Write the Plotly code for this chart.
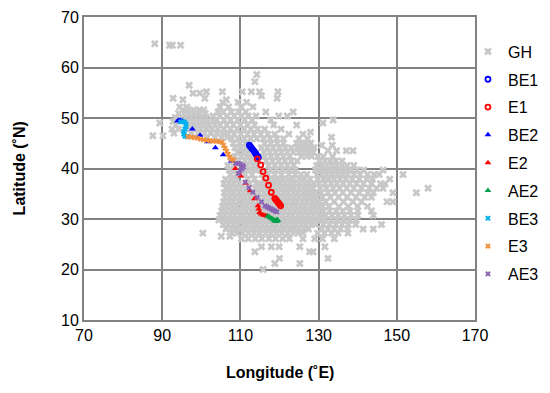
import plotly.graph_objects as go

# ---------------- GH background cloud (rows of latitude -> longitudes) ----------------
gh_rows = [
    (64.7, [88.1]), (64.4, [91.9, 92.6, 94.7]),
    (58.6, [114.2]), (57.2, [113.7]), (56.5, [96.9]),
    (55.2, [101.3, 105.4, 110.5, 112.8, 114.9, 119.6]),
    (54.9, [97.9, 99.6]), (54.4, [115.4]),
    (53.9, [92.8, 100.9, 119.4]), (53.6, [95.3, 106.4]),
    (53.1, [105.5, 109.4, 111.6]),
    (52.2, [94.5, 96.3, 104.8, 107.0, 110.2, 113.2]),
    (51.6, [95.2, 96.6, 98.0, 99.5, 100.6]),
    (51.2, [104.3, 105.6, 107.7, 109.5, 111.4, 116.5, 123.5]),
    (50.9, [94.2, 95.6, 96.9, 98.2, 99.6, 101.0]),
    (50.4, [103.0, 104.7, 106.5, 108.4, 110.2, 112.0, 114.0, 119.8, 122.0]),
    (50.1, [93.4, 94.8, 96.1, 97.4, 98.7, 100.0, 101.3]),
    (49.6, [104.0, 105.8, 107.5, 109.3, 111.1, 113.0, 117.8, 133.7]),
    (49.3, [92.8, 96.4, 97.7, 99.0, 100.3, 101.6, 103.0]),
    (49.0, [89.4, 131.1]),
    (48.6, [93.5, 96.8, 98.1, 99.4, 100.7, 102.0, 103.5, 104.8, 106.5, 108.2, 110.0, 111.8, 113.6, 118.5, 124.4]),
    (47.8, [92.5, 94.2, 96.9, 98.5, 99.9, 101.3, 102.7, 104.2, 105.8, 107.5, 109.2, 111.0, 112.7, 114.4, 116.2, 120.4]),
    (47.2, [127.9]),
    (47.0, [93.0, 97.5, 99.2, 100.8, 102.4, 104.0, 105.5]),
    (46.8, [106.8, 108.4, 110.1, 111.8, 113.5, 115.2, 117.0, 118.8, 122.4, 126.0]),
    (46.5, [87.6, 90.2]),
    (46.2, [101.5, 103.5, 105.2, 106.6, 133.3]),
    (45.9, [107.8, 109.4, 111.0, 112.6, 114.2, 115.9, 117.6, 119.3, 121.0, 125.0, 127.2]),
    (45.0, [108.2, 109.8, 111.3, 116.2, 117.8, 119.4, 121.0, 124.4, 125.6, 126.8, 128.0]),
    (44.6, [130.8, 133.5]),
    (44.1, [108.6, 110.0, 111.4, 115.4, 116.9, 118.4, 120.0, 121.5, 123.0, 124.5, 125.5, 126.6, 127.7, 128.8]),
    (43.5, [132.4, 134.6, 137.1, 138.8]),
    (43.2, [109.2, 110.6, 111.8, 116.0, 117.5, 119.0, 120.5, 122.0, 123.5, 125.0, 126.2, 127.4, 128.6]),
    (42.4, [108.6, 110.2, 111.6, 112.8, 116.2, 117.8, 119.4, 121.0, 122.6, 125.6, 127.0, 128.2, 129.8, 131.2, 133.6]),
    (41.5, [107.6, 109.5, 111.2, 112.6, 113.9, 116.6, 118.2, 119.8, 121.4, 123.0, 124.5, 130.2, 131.6, 133.0, 134.4, 136.0]),
    (40.6, [106.8, 108.2, 111.8, 113.2, 114.4, 117.2, 118.8, 120.4, 122.0, 123.6, 129.5, 130.8, 132.1, 133.4, 134.7, 136.0, 137.3, 139.0]),
    (39.7, [107.2, 108.6, 111.2, 112.6, 113.9, 115.1, 117.6, 119.2, 120.8, 122.4, 124.0, 129.2, 130.5, 131.8, 133.1, 134.4, 135.7, 137.0, 138.3, 139.8, 141.5, 146.5]),
    (38.8, [107.5, 109.0, 111.2, 113.0, 115.5, 117.0, 118.8, 120.5, 122.4, 124.0, 125.5, 127.0, 129.6, 130.9, 132.2, 133.5, 134.8, 136.1, 137.4, 139.0, 140.6, 142.5, 144.2, 145.5, 151.6]),
    (37.9, [106.2, 107.6, 108.9, 111.8, 113.6, 116.0, 117.4, 118.6, 119.8, 121.0, 122.3, 123.5, 125.0, 126.3, 127.8, 129.8, 131.3, 132.6, 134.0, 135.5, 137.0, 138.6, 140.4, 142.3, 143.8, 148.2]),
    (37.0, [105.8, 107.1, 108.3, 109.6, 112.4, 114.1, 115.2, 116.4, 117.7, 118.9, 120.1, 121.3, 122.6, 123.8, 125.1, 126.4, 127.6, 128.8, 130.1, 131.6, 133.2, 134.7, 136.3, 138.0, 139.7, 141.5, 143.5, 145.8, 147.0]),
    (36.1, [106.3, 107.5, 108.8, 110.1, 111.4, 113.8, 114.9, 116.2, 117.4, 118.8, 120.0, 121.2, 122.5, 123.7, 125.0, 126.2, 127.5, 128.6, 130.4, 132.0, 133.7, 135.4, 137.2, 139.0, 141.0, 143.0, 144.8, 146.5, 158.0]),
    (35.2, [105.9, 107.2, 108.4, 109.7, 110.9, 112.2, 113.5, 114.7, 116.0, 117.2, 118.5, 119.7, 121.0, 122.2, 123.5, 124.7, 126.0, 127.2, 128.4, 129.3, 130.6, 132.4, 134.2, 136.2, 138.3, 140.4, 142.6, 144.0, 149.0, 155.0]),
    (34.3, [106.1, 107.4, 108.6, 109.9, 111.1, 112.4, 113.6, 114.9, 116.1, 117.4, 118.7, 119.9, 121.2, 122.4, 123.7, 124.9, 126.2, 127.4, 128.6, 129.6, 131.0, 133.0, 135.1, 137.3, 139.6, 141.8, 143.5]),
    (33.4, [105.7, 107.0, 108.2, 109.5, 110.7, 112.0, 113.2, 114.5, 115.7, 117.0, 118.2, 119.5, 120.8, 122.0, 123.3, 124.5, 125.8, 127.0, 128.3, 129.5, 130.4, 131.8, 134.0, 136.4, 138.8, 141.0, 147.5, 149.0]),
    (32.5, [105.4, 106.6, 107.9, 109.1, 110.4, 111.6, 112.9, 114.1, 115.4, 116.6, 117.9, 119.1, 120.4, 121.6, 122.9, 124.1, 125.4, 126.6, 127.9, 129.1, 130.2, 131.0, 132.6, 135.2, 137.6, 140.0, 142.5]),
    (31.6, [105.2, 106.4, 107.7, 108.9, 110.2, 111.4, 112.7, 113.9, 115.2, 116.4, 117.7, 118.9, 120.2, 121.4, 122.7, 123.9, 125.2, 126.4, 127.7, 128.9, 130.1, 131.2, 132.8, 134.5, 136.2, 138.0, 140.0, 143.5]),
    (30.7, [104.8, 106.0, 107.3, 108.5, 109.8, 111.0, 112.3, 113.5, 114.8, 116.0, 117.3, 118.5, 119.8, 121.0, 122.3, 123.5, 124.8, 126.0, 127.3, 128.5, 129.8, 130.8, 131.8, 133.4, 135.0, 136.6, 138.3, 140.0, 144.0]),
    (29.8, [104.5, 105.7, 107.0, 108.2, 109.5, 110.7, 112.0, 113.2, 114.5, 115.7, 117.0, 118.2, 119.5, 120.7, 122.0, 123.2, 124.5, 125.7, 127.0, 128.2, 129.5, 130.6, 131.6, 133.2, 134.8, 136.4, 138.0, 139.6]),
    (28.9, [105.6, 106.8, 108.1, 109.3, 110.6, 111.8, 113.1, 114.3, 115.6, 116.8, 118.1, 119.3, 120.6, 121.8, 123.1, 124.3, 125.6, 126.8, 128.1, 129.3, 131.2, 132.8, 134.4, 136.0, 137.6, 139.5, 146.1]),
    (28.0, [106.3, 107.6, 108.8, 110.1, 111.3, 112.6, 113.8, 115.1, 116.3, 117.6, 118.8, 120.1, 121.3, 122.6, 123.8, 125.1, 126.3, 127.4, 130.8, 132.4, 134.0, 135.6, 137.4, 141.4, 144.0]),
    (27.2, [100.4, 107.8, 109.2, 110.6, 112.1, 113.5, 114.9, 116.4, 117.8, 119.2, 120.6, 122.1, 123.5, 124.8, 126.0, 129.8, 131.5, 133.3, 135.0, 137.5]),
    (26.6, [105.1, 107.3]),
    (26.1, [110.3, 112.0, 113.8, 115.5, 117.3, 119.0, 120.8, 122.5, 126.0, 129.0, 131.0, 134.0]),
    (24.5, [115.4, 117.9, 119.9, 125.2, 131.6]),
    (23.5, [113.7, 127.7, 128.6]),
    (22.2, [120.0, 132.4]),
    (21.2, [118.8, 125.2]),
    (20.0, [115.8]),
]
gh_lon = [lon for lat, lons in gh_rows for lon in lons]
gh_lat = [lat for lat, lons in gh_rows for lon in lons]

# ---------------- trajectory series ----------------
be1_lon = [112.3, 112.6, 112.9, 113.2, 113.5, 113.8, 114.0, 114.3, 114.6]
be1_lat = [44.6, 44.3, 44.0, 43.7, 43.4, 43.1, 42.8, 42.5, 42.2]

e1_lon = [114.3, 115.2, 115.8, 116.5, 117.2, 117.9, 118.8, 119.1, 119.4, 119.7, 120.0, 120.3]
e1_lat = [41.9, 40.7, 39.4, 38.1, 36.7, 35.3, 34.1, 33.8, 33.5, 33.2, 32.9, 32.6]

be2_lon = [93.9, 94.3, 94.7, 95.1, 95.5, 97.7, 99.7, 101.6, 103.6, 105.6, 107.7]
be2_lat = [49.4, 49.5, 49.5, 49.4, 49.2, 47.8, 46.6, 45.3, 44.1, 42.7, 41.5]

e2_lon = [108.7, 110.1, 111.3, 112.5, 113.6, 114.5, 114.7, 114.9, 115.3, 115.8, 116.3, 116.8]
e2_lat = [40.0, 38.5, 37.1, 35.6, 34.0, 32.6, 32.0, 31.3, 31.0, 30.8, 30.7, 30.6]

ae2_lon = [117.0, 117.4, 117.8, 118.2, 118.6, 119.0, 119.4, 119.2, 118.8, 119.6]
ae2_lat = [30.6, 30.4, 30.2, 30.0, 29.8, 29.7, 29.9, 29.5, 29.6, 29.7]

be3_lon = [94.7, 95.2, 95.7, 96.1, 96.1, 95.8, 95.5, 95.5, 95.8, 96.3]
be3_lat = [49.2, 49.3, 49.2, 48.8, 48.3, 47.8, 47.3, 46.8, 46.4, 46.3]

e3_lon = [96.6, 97.4, 98.2, 99.0, 99.8, 100.6, 101.4, 102.2, 103.0, 103.8, 104.6, 105.3, 105.7, 106.1, 106.5, 106.9, 107.3, 107.8, 108.3]
e3_lat = [46.3, 46.2, 46.1, 46.0, 45.8, 45.7, 45.6, 45.5, 45.4, 45.4, 45.3, 45.2, 44.6, 44.0, 43.4, 42.8, 42.2, 41.8, 41.6]

ae3_lon = [108.8, 109.4, 110.0, 110.6, 110.8, 110.4, 109.9, 109.5, 111.2, 112.2, 113.2, 114.3, 115.4, 116.3, 116.8, 117.3, 117.8, 118.3, 118.8, 119.3]
ae3_lat = [41.0, 41.0, 40.9, 40.6, 40.3, 39.9, 39.5, 39.0, 37.3, 36.2, 35.3, 34.3, 33.4, 32.6, 32.4, 32.2, 32.0, 31.8, 31.6, 31.4]

x_ticks = [70, 90, 110, 130, 150, 170]
y_ticks = [10, 20, 30, 40, 50, 60, 70]
x_title = "Longitude (˚E)"
y_title = "Latitude (˚N)"

FONT = "Liberation Sans, Arial, sans-serif"
GRID = "#828282"

fig = go.Figure()
fig.add_trace(go.Scatter(x=gh_lon, y=gh_lat, mode="markers", name="GH", legendgroup="GH",
                         marker=dict(symbol="x", size=7, color="#c8c8c8", line=dict(width=0))))

def add(name, xs, ys, symbol, color, size, lw=0):
    m = dict(symbol=symbol, size=size, color=color)
    if symbol.endswith("open"):
        m["line"] = dict(width=lw, color=color)
    else:
        m["line"] = dict(width=0)
    fig.add_trace(go.Scatter(x=xs, y=ys, mode="markers", name=name, legendgroup=name, marker=m))

add("BE1", be1_lon, be1_lat, "circle-open", "#0000ff", 5, 1.8)
add("E1", e1_lon, e1_lat, "circle-open", "#ff0000", 5, 1.8)
add("BE2", be2_lon, be2_lat, "triangle-up", "#0000ff", 6)
add("E2", e2_lon, e2_lat, "triangle-up", "#ff0000", 6)
add("AE2", ae2_lon, ae2_lat, "triangle-up", "#00a04a", 6)
add("BE3", be3_lon, be3_lat, "x", "#00b0f0", 5)
add("E3", e3_lon, e3_lat, "x", "#f0913f", 5)
add("AE3", ae3_lon, ae3_lat, "x", "#8a63b5", 5)

# The page body has an 8px margin, so the figure is drawn at (8, 8) in the window.
fig.update_layout(
    width=542, height=385,
    margin=dict(l=76, r=75, t=9, b=73, autoexpand=False),
    paper_bgcolor="white", plot_bgcolor="white",
    font=dict(family=FONT, size=16, color="#000000"),
    showlegend=True,
    legend=dict(x=0.982, y=0.942, xanchor="left", yanchor="top",
                bgcolor="rgba(0,0,0,0)", font=dict(size=16, family=FONT),
                traceorder="grouped", itemsizing="trace", tracegroupgap=4),
    xaxis=dict(range=[70, 170], tickvals=x_ticks, ticktext=[str(v) for v in x_ticks],
               showgrid=True, gridcolor=GRID, gridwidth=2,
               showline=True, linecolor=GRID, linewidth=2, mirror=True,
               zeroline=False, ticks="", tickfont=dict(size=16), automargin=False),
    yaxis=dict(range=[10, 70], tickvals=y_ticks, ticktext=[str(v) for v in y_ticks],
               showgrid=True, gridcolor=GRID, gridwidth=2,
               showline=True, linecolor=GRID, linewidth=2, mirror=True,
               zeroline=False, ticks="", tickfont=dict(size=16), automargin=False),
    annotations=[
        dict(text="<b>" + x_title + "</b>", xref="paper", yref="paper", x=0.5, y=-0.172,
             xanchor="center", yanchor="middle", showarrow=False, font=dict(size=16)),
        dict(text="<b>" + y_title + "</b>", xref="paper", yref="paper", x=-0.164, y=0.5,
             xanchor="center", yanchor="middle", textangle=-90, showarrow=False, font=dict(size=16)),
    ],
)

fig.write_html("out.html")
